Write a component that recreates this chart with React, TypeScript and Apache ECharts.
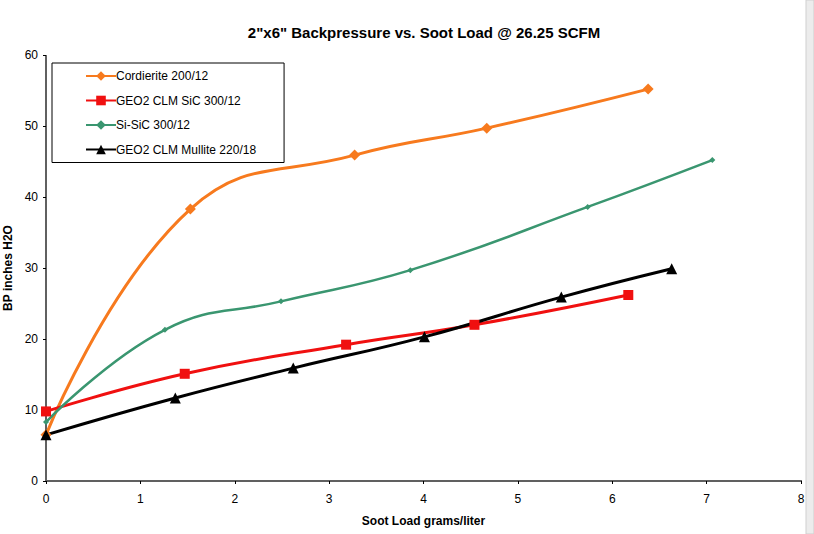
import React, { useEffect, useRef } from "react";
import * as echarts from "echarts";

const titleText = '2"x6" Backpressure vs. Soot Load @ 26.25 SCFM';
const xAxisTitle = "Soot Load grams/liter";
const yAxisTitle = "BP inches H2O";

const seriesNames = [
  "Cordierite 200/12",
  "GEO2 CLM SiC 300/12",
  "Si-SiC 300/12",
  "GEO2 CLM Mullite 220/18",
];

const cordieriteX = [0, 1.53, 3.27, 4.67, 6.38];
const cordieriteY = [6.5, 38.3, 45.9, 49.7, 55.2];

const geoSicX = [0, 1.47, 3.18, 4.54, 6.17];
const geoSicY = [9.8, 15.1, 19.2, 22.0, 26.2];

const siSicX = [0, 1.26, 2.49, 3.86, 5.74, 7.06];
const siSicY = [8.3, 21.3, 25.3, 29.7, 38.6, 45.2];

const mulliteX = [0, 1.37, 2.62, 4.01, 5.46, 6.63];
const mulliteY = [6.5, 11.7, 15.9, 20.3, 25.9, 29.9];

const xMin = 0;
const xMax = 8;
const xStep = 1;
const yMin = 0;
const yMax = 60;
const yStep = 10;

const pairs = (xs: number[], ys: number[]) => xs.map((x, i) => [x, ys[i]]);

const FONT = "'Liberation Sans', Arial, sans-serif";

export default function App() {
  const ref = useRef<HTMLDivElement>(null);

  useEffect(() => {
    if (!ref.current) return;
    const chart = echarts.init(ref.current, undefined, { renderer: "svg" });

    const frameLine = { show: true, lineStyle: { color: "#606060", width: 2, type: [1, 1] as any } };

    const mkSeries = (
      name: string,
      data: number[][],
      color: string,
      symbol: string,
      symbolSize: number,
      width: number
    ) => ({
      name,
      type: "line",
      xAxisIndex: 0,
      yAxisIndex: 0,
      data,
      smooth: 0.45,
      symbol,
      symbolSize,
      showSymbol: true,
      lineStyle: { color, width },
      itemStyle: { color, borderWidth: 0 },
      emphasis: { disabled: true },
    });

    chart.setOption({
      animation: false,
      backgroundColor: "#ffffff",
      textStyle: { fontFamily: FONT },
      title: {
        text: titleText,
        left: 419,
        textAlign: "center",
        top: 20,
        textStyle: { fontFamily: FONT, fontSize: 15, fontWeight: "bold", color: "#000" },
      },
      grid: {
        left: 46,
        right: 13,
        top: 55,
        bottom: 53,
        containLabel: false,
        outerBoundsMode: "none",
      },
      legend: {
        orient: "vertical",
        left: 52,
        top: 63,
        width: 231,
        padding: [7, 28, 7, 33],
        itemGap: 12.5,
        itemWidth: 30,
        itemHeight: 12,
        borderColor: "#000",
        borderWidth: 1,
        backgroundColor: "#fff",
        data: seriesNames,
        textStyle: { fontFamily: FONT, fontSize: 12, color: "#000", padding: [0, 0, 0, -5] },
      },
      xAxis: [
        {
          type: "value",
          min: xMin,
          max: xMax,
          interval: xStep,
          name: xAxisTitle,
          nameLocation: "middle",
          nameGap: 34,
          nameTextStyle: { fontFamily: FONT, fontSize: 12, fontWeight: "bold", color: "#000" },
          axisLine: frameLine,
          axisTick: { show: true, length: 3, inside: false, lineStyle: { color: "#000" } },
          axisLabel: { fontFamily: FONT, fontSize: 12, color: "#000", margin: 12 },
          splitLine: { show: false },
        },
        {
          type: "value",
          position: "top",
          min: xMin,
          max: xMax,
          interval: xStep,
          axisLine: frameLine,
          axisTick: { show: false },
          axisLabel: { show: false },
          splitLine: { show: false },
        },
      ],
      yAxis: [
        {
          type: "value",
          min: yMin,
          max: yMax,
          interval: yStep,
          name: yAxisTitle,
          nameLocation: "middle",
          nameGap: 29,
          nameRotate: 90,
          nameTextStyle: { fontFamily: FONT, fontSize: 12, fontWeight: "bold", color: "#000" },
          axisLine: frameLine,
          axisTick: { show: true, length: 3, lineStyle: { color: "#000" } },
          axisLabel: { fontFamily: FONT, fontSize: 12, color: "#000", margin: 8 },
          splitLine: { show: false },
        },
        {
          type: "value",
          position: "right",
          min: yMin,
          max: yMax,
          interval: yStep,
          axisLine: frameLine,
          axisTick: { show: false },
          axisLabel: { show: false },
          splitLine: { show: false },
        },
      ],
      graphic: [
        {
          type: "rect",
          shape: { x: 806, y: 0, width: 8, height: 534 },
          style: { fill: "#ececec", stroke: "#cfcfcf", lineWidth: 1 },
          silent: true,
        },
      ],
      series: [
        mkSeries(seriesNames[0], pairs(cordieriteX, cordieriteY), "#f77a1e", "diamond", 11, 3),
        mkSeries(seriesNames[1], pairs(geoSicX, geoSicY), "#f01010", "rect", 10, 3),
        mkSeries(seriesNames[2], pairs(siSicX, siSicY), "#3a9670", "diamond", 6, 2.5),
        mkSeries(seriesNames[3], pairs(mulliteX, mulliteY), "#000000", "triangle", 11, 3),
      ],
    });

    return () => chart.dispose();
  }, []);

  return (
    <div
      ref={ref}
      style={{ position: "fixed", left: 0, top: 0, width: 814, height: 534, background: "#fff" }}
    />
  );
}
